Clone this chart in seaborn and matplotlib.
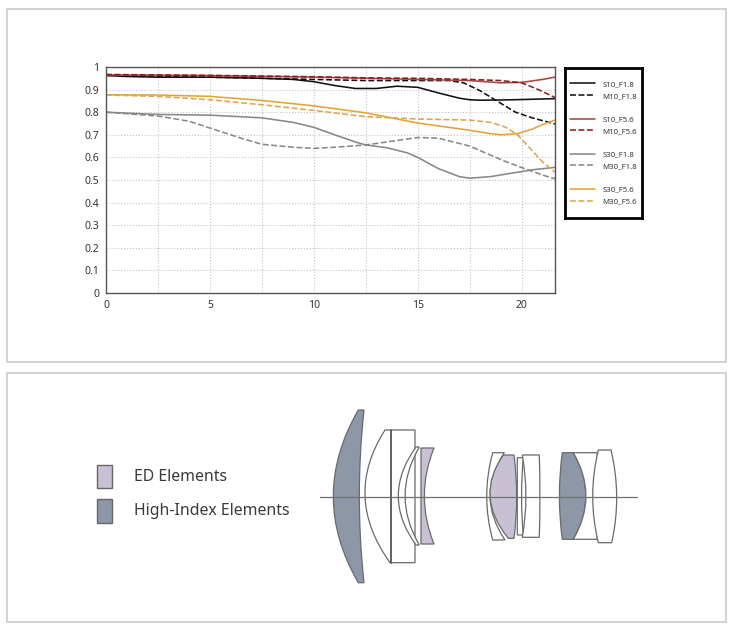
import numpy as np
import pandas as pd
import matplotlib
matplotlib.use("Agg")
import matplotlib.pyplot as plt
from matplotlib.path import Path
from matplotlib.patches import PathPatch, Rectangle
from matplotlib.lines import Line2D
import seaborn as sns

# ---- MTF data (image height in mm vs contrast) ----
s10_f18_x = [0, 1, 2.5, 5, 7.5, 9, 10, 11, 12, 13, 14, 15, 16, 17, 17.5, 18, 19, 20, 21.6]
s10_f18_y = [0.962, 0.958, 0.955, 0.955, 0.95, 0.945, 0.935, 0.918, 0.905, 0.905, 0.915, 0.91,
             0.885, 0.862, 0.855, 0.853, 0.854, 0.856, 0.86]
m10_f18_x = [0, 2.5, 5, 7.5, 10, 12.5, 15, 16.5, 17.2, 18, 18.8, 19.7, 20.5, 21.6]
m10_f18_y = [0.965, 0.96, 0.955, 0.95, 0.945, 0.94, 0.94, 0.94, 0.93, 0.895, 0.85, 0.80, 0.775, 0.748]
s10_f56_x = [0, 5, 10, 12.5, 15, 17.5, 19, 20, 21, 21.6]
s10_f56_y = [0.965, 0.962, 0.955, 0.95, 0.945, 0.94, 0.93, 0.932, 0.945, 0.955]
m10_f56_x = [0, 5, 10, 12.5, 15, 17.5, 19, 20, 20.8, 21.6]
m10_f56_y = [0.967, 0.963, 0.957, 0.952, 0.95, 0.945, 0.94, 0.93, 0.9, 0.865]
s30_f18_x = [0, 2.5, 5, 7.5, 9, 10, 11, 12, 12.5, 13.5, 14.5, 15, 16, 17, 17.5, 18.5, 19.5, 20.5, 21.6]
s30_f18_y = [0.80, 0.79, 0.787, 0.775, 0.755, 0.733, 0.70, 0.668, 0.655, 0.643, 0.62, 0.60,
             0.55, 0.515, 0.508, 0.515, 0.53, 0.545, 0.556]
m30_f18_x = [0, 2.5, 4, 5, 6.5, 7.5, 9, 10, 11, 12.5, 14, 15, 16, 17.5, 19, 20, 21, 21.6]
m30_f18_y = [0.80, 0.783, 0.76, 0.73, 0.685, 0.658, 0.645, 0.64, 0.645, 0.655, 0.675, 0.688,
             0.685, 0.65, 0.59, 0.555, 0.522, 0.505]
s30_f56_x = [0, 2.5, 5, 7.5, 10, 12.5, 15, 17.5, 18.5, 19, 19.8, 20.5, 21, 21.6]
s30_f56_y = [0.877, 0.876, 0.87, 0.852, 0.828, 0.797, 0.752, 0.72, 0.705, 0.70, 0.705, 0.725, 0.745, 0.765]
m30_f56_x = [0, 2.5, 5, 7.5, 10, 12.5, 15, 17.5, 18.5, 19.2, 19.8, 20.4, 21, 21.6]
m30_f56_y = [0.876, 0.87, 0.855, 0.833, 0.808, 0.78, 0.77, 0.765, 0.755, 0.735, 0.70, 0.64, 0.58, 0.535]

series = [
    ("S10_F1.8", s10_f18_x, s10_f18_y, "#111111", "-"),
    ("M10_F1.8", m10_f18_x, m10_f18_y, "#111111", "--"),
    ("S10_F5.6", s10_f56_x, s10_f56_y, "#a84545", "-"),
    ("M10_F5.6", m10_f56_x, m10_f56_y, "#8b1e1e", "--"),
    ("S30_F1.8", s30_f18_x, s30_f18_y, "#888888", "-"),
    ("M30_F1.8", m30_f18_x, m30_f18_y, "#888888", "--"),
    ("S30_F5.6", s30_f56_x, s30_f56_y, "#e3a33c", "-"),
    ("M30_F5.6", m30_f56_x, m30_f56_y, "#dca552", "--"),
]

# ---- lens diagram: (y_top, y_bottom, left side (top,mid,bottom), right side (top,mid,bottom), kind) ----
lens_tops = [410, 430, 447, 448, 452.7, 455, 457.7, 455, 452.7, 452.7, 450]
lens_bottoms = [582.7, 562.7, 545, 544, 540, 538.3, 535, 537.3, 539.3, 539.3, 542.7]
lens_left = [(358.3, 333.3, 358.3), (385, 365, 390), (416, 398.3, 416), (421, 421, 421),
             (492.7, 486.7, 492.7), (503.3, 490, 508.3), (517.3, 517.3, 517.3), (522.3, 526, 522.3),
             (562.3, 559.3, 562.3), (573.3, 586, 573.3), (598.3, 592.7, 598.3)]
lens_right = [(364, 359.3, 364), (415, 415, 415), (419.3, 405, 419.3), (434, 424.3, 434),
              (504.3, 490, 505), (514, 516.7, 514), (523.3, 521.5, 523.3), (539.3, 540, 539.3),
              (573.3, 586, 573.3), (597.3, 597.3, 597.3), (611, 616.7, 611.7)]
lens_kind = ["hi", "plain", "plain", "ed", "plain", "ed", "plain", "plain", "hi", "plain", "plain"]
kind_colors = {"hi": "#8d97a7", "ed": "#c9c0d3", "plain": "white"}

sns.set_style("white")
plt.rcParams["font.family"] = ["Noto Sans", "DejaVu Sans"]

W, H = 733, 629
fig = plt.figure(figsize=(W / 100, H / 100), dpi=100)

# background drawing layer in pixel coordinates
bg = fig.add_axes([0, 0, 1, 1], zorder=0)
bg.set_xlim(0, W)
bg.set_ylim(H, 0)
bg.axis("off")
for top, bot in [(9, 362), (373, 622)]:
    bg.add_patch(Rectangle((7, top), 719, bot - top, fill=False, ec="#d2d2d2", lw=1.4))

# ---- MTF chart ----
ax = fig.add_axes([106 / W, 1 - 293 / H, 449 / W, 226 / H], zorder=2)
for name, xs, ys, col, ls in series:
    sns.lineplot(x=xs, y=ys, ax=ax, color=col, linestyle=ls, lw=1.15, label=name,
                 dashes=False)
ax.set_xlim(0, 21.6)
ax.set_ylim(0, 1)
ax.set_xticks([0, 5, 10, 15, 20])
ax.set_xticks(np.arange(2.5, 21.6, 5), minor=True)
ax.set_yticks(np.round(np.arange(0, 1.01, 0.1), 1))
ax.set_yticklabels([f"{v:g}" for v in np.round(np.arange(0, 1.01, 0.1), 1)])
ax.grid(True, which="both", linestyle=":", color="#c4c4c4", lw=0.8)
ax.tick_params(which="both", length=0, labelsize=7.5, labelcolor="#333333", pad=5)
for sp in ax.spines.values():
    sp.set_color("#555555")
    sp.set_linewidth(1)
handles, labels = ax.get_legend_handles_labels()
ax.get_legend().remove()

# legend box
lax = fig.add_axes([565 / W, 1 - 218 / H, 77 / W, 150 / H], zorder=2)
lax.set_xticks([])
lax.set_yticks([])
for sp in lax.spines.values():
    sp.set_color("black")
    sp.set_linewidth(2)
blank = Line2D([], [], color="none")
leg_h, leg_l = [], []
for i in range(0, 8, 2):
    if i:
        leg_h.append(blank)
        leg_l.append(" ")
    leg_h += handles[i:i + 2]
    leg_l += labels[i:i + 2]
lax.legend(leg_h, leg_l, loc="center", frameon=False, fontsize=5.6, labelspacing=0.55,
           handlelength=3.2, handletextpad=1.0, labelcolor="#333333")

# ---- lens diagram ----
def side_path(p0, mid, p2):
    ctrl = (2 * mid[0] - 0.5 * (p0[0] + p2[0]), 2 * mid[1] - 0.5 * (p0[1] + p2[1]))
    return ctrl, p2

for top, bot, lft, rgt, kind in zip(lens_tops, lens_bottoms, lens_left, lens_right, lens_kind):
    ymid = (top + bot) / 2
    c1, e1 = side_path((rgt[0], top), (rgt[1], ymid), (rgt[2], bot))
    c2, e2 = side_path((lft[2], bot), (lft[1], ymid), (lft[0], top))
    verts = [(lft[0], top), (rgt[0], top), c1, e1, (lft[2], bot), c2, e2, (lft[0], top)]
    codes = [Path.MOVETO, Path.LINETO, Path.CURVE3, Path.CURVE3, Path.LINETO,
             Path.CURVE3, Path.CURVE3, Path.CLOSEPOLY]
    bg.add_patch(PathPatch(Path(verts, codes), fc=kind_colors[kind], ec="#6a6a6a", lw=0.9))

# cemented interface in the second element
bg.plot([391, 391], [430, 562.7], color="#555555", lw=1.3)
# optical axis
bg.plot([320, 636.7], [496.7, 496.7], color="#707070", lw=0.9)

# lens legend
for y0, kind in [(465, "ed"), (499.3, "hi")]:
    bg.add_patch(Rectangle((97, y0), 15, 23.3, fc=kind_colors[kind], ec="#666666", lw=1))
bg.text(134, 477, "ED Elements", fontsize=11.4, color="#3a3a3a", va="center", ha="left")
bg.text(134, 511, "High-Index Elements", fontsize=11.4, color="#3a3a3a", va="center", ha="left")

fig.savefig("out.png", dpi=100)
